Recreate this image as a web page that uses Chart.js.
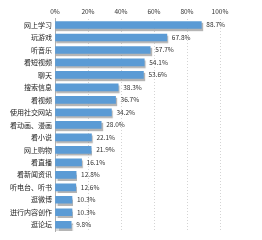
<!DOCTYPE html>
<html>
<head>
<meta charset="utf-8">
<script src="https://cdn.jsdelivr.net/npm/chart.js@4/dist/chart.umd.min.js"></script>
<style>
  html, body { margin: 0; padding: 0; background: #fff; }
  #wrap { width: 262px; height: 240px; position: relative; }
</style>
</head>
<body>
<div id="wrap"><canvas id="myChart" width="262" height="240"></canvas></div>
<script>
const categories = [
  "网上学习", "玩游戏", "听音乐", "看短视频", "聊天", "搜索信息", "看视频",
  "使用社交网站", "看动画、漫画", "看小说", "网上购物", "看直播", "看新闻资讯",
  "听电台、听书", "逛微博", "进行内容创作", "逛论坛"
];
const shares = [88.7, 67.8, 57.7, 54.1, 53.6, 38.3, 36.7, 34.2, 28.0, 22.1, 21.9, 16.1, 12.8, 12.6, 10.3, 10.3, 9.8];
const tickValues = [0, 20, 40, 60, 80, 100];

const fontFamily = "'Noto Sans CJK SC', 'Noto Sans', sans-serif";

// soft grey shadow under the bars
const barShadow = {
  id: "barShadow",
  beforeDatasetsDraw(chart) {
    const ctx = chart.ctx;
    ctx.save();
    ctx.shadowColor = "rgba(120,120,120,0.55)";
    ctx.shadowOffsetX = 1;
    ctx.shadowOffsetY = 2;
    ctx.shadowBlur = 1;
  },
  afterDatasetsDraw(chart) {
    chart.ctx.restore();
  }
};

// value labels to the right of each bar
const valueLabels = {
  id: "valueLabels",
  afterDatasetsDraw(chart) {
    const ctx = chart.ctx;
    const meta = chart.getDatasetMeta(0);
    ctx.save();
    ctx.font = "6.5px " + fontFamily;
    ctx.fillStyle = "#333";
    ctx.textAlign = "left";
    ctx.textBaseline = "middle";
    meta.data.forEach((bar, i) => {
      ctx.fillText(shares[i].toFixed(1) + "%", bar.x + 5, bar.y);
    });
    ctx.restore();
  }
};

new Chart(document.getElementById("myChart").getContext("2d"), {
  type: "bar",
  data: {
    labels: categories,
    datasets: [{
      data: shares,
      backgroundColor: "#5b9bd5",
      borderWidth: 0,
      barThickness: 7
    }]
  },
  options: {
    indexAxis: "y",
    responsive: false,
    animation: false,
    layout: { padding: { left: 0, right: 42, top: 0, bottom: 9 } },
    plugins: {
      legend: { display: false },
      tooltip: { enabled: false }
    },
    scales: {
      x: {
        position: "top",
        min: 0,
        max: 100,
        afterBuildTicks: (axis) => { axis.ticks = tickValues.map(v => ({ value: v })); },
        afterFit: (axis) => { axis.height = 18.75; },
        ticks: {
          padding: 3,
          color: "#333",
          font: { size: 6.5, family: fontFamily },
          callback: (v) => v + "%"
        },
        grid: {
          color: (c) => c.tick && c.tick.value === 0 ? "rgba(0,0,0,0)" : "#d4d4d4",
          drawTicks: false,
          lineWidth: 1
        },
        border: { display: false, dash: [1, 2] }
      },
      y: {
        afterFit: (axis) => { axis.width = 55; },
        ticks: {
          padding: 3,
          color: "#222",
          font: { size: 7, family: fontFamily }
        },
        grid: { display: false, drawTicks: false },
        border: { display: true, color: "#b0b0b0", width: 1 }
      }
    }
  },
  plugins: [barShadow, valueLabels]
});
</script>
</body>
</html>
